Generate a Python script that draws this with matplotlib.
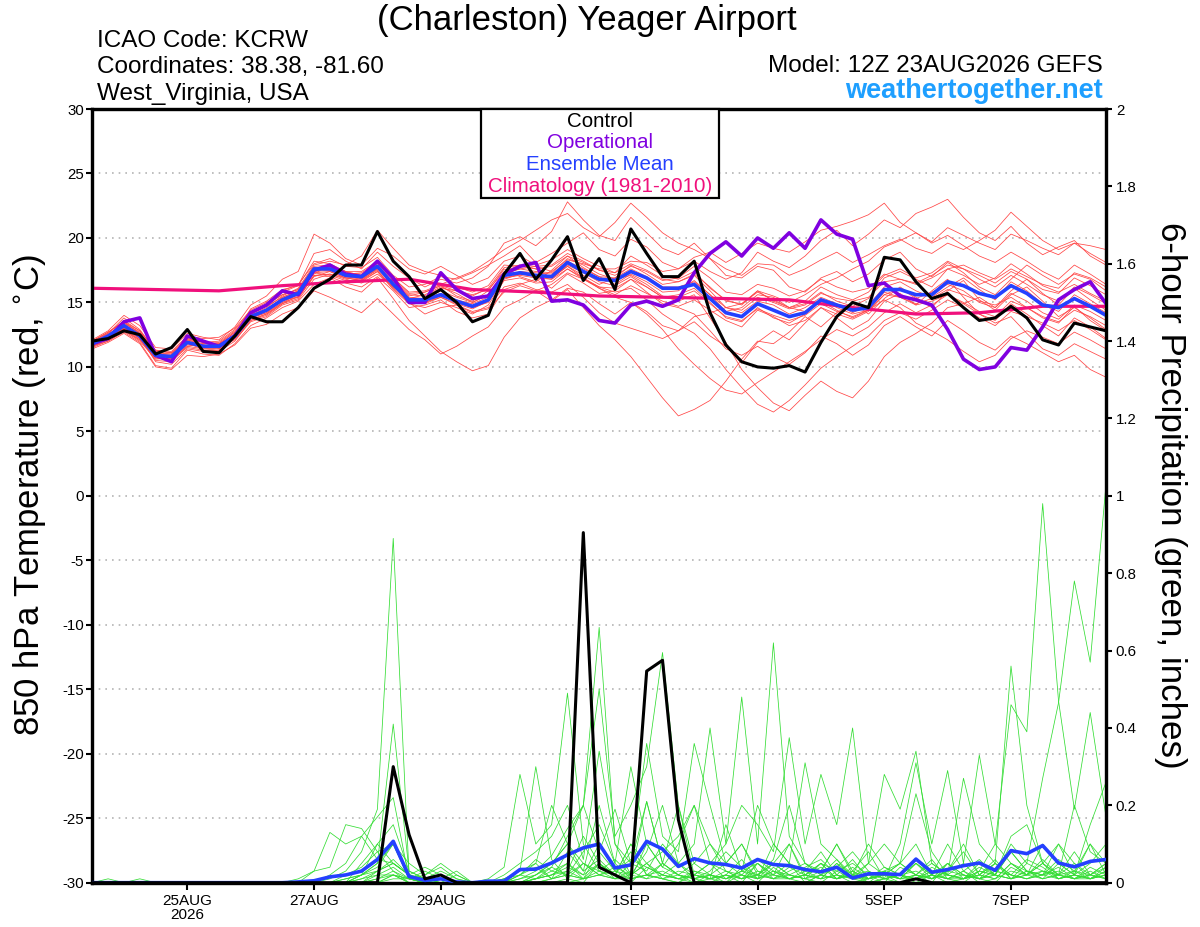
import numpy as np
import matplotlib
matplotlib.use("Agg")
import matplotlib.pyplot as plt
from matplotlib.patches import Rectangle

plt.rcParams['font.family'] = ['Liberation Sans', 'DejaVu Sans']
plt.rcParams['axes.unicode_minus'] = False

# 6-hourly GEFS steps from 12Z 23AUG2026 (65 points, 0-384 h)
times = np.arange(np.datetime64('2026-08-23T12'), np.datetime64('2026-09-08T13'), np.timedelta64(6, 'h'))

# 850 hPa temperature (C)
control_t = [12.0, 12.2, 12.8, 12.5, 11.0, 11.5, 12.9, 11.2, 11.1, 12.4, 13.9, 13.5, 13.5,
             14.6, 16.1, 16.8, 17.9, 17.9, 20.5, 18.2, 17.0, 15.3, 16.0, 15.0, 13.5, 14.0,
             17.2, 18.8, 16.8, 18.3, 20.1, 16.7, 18.4, 16.0, 20.7, 18.8, 17.0, 17.0, 18.2,
             14.2, 11.7, 10.4, 10.0, 9.9, 10.1, 9.6, 11.9, 13.9, 15.0, 14.6, 18.5, 18.3,
             16.6, 15.3, 15.7, 14.6, 13.6, 13.8, 14.7, 13.8, 12.1, 11.7, 13.4, 13.1, 12.8]
oper_t = [11.8, 12.2, 13.5, 13.8, 10.9, 10.4, 12.4, 12.0, 11.6, 12.4, 14.2, 14.8, 15.9,
          15.6, 17.5, 17.9, 17.2, 17.0, 18.2, 16.9, 15.0, 15.0, 17.3, 16.0, 15.3, 15.5,
          17.2, 17.8, 18.1, 15.1, 15.2, 14.8, 13.6, 13.4, 14.8, 15.1, 14.7, 15.2, 17.3,
          18.8, 19.7, 18.6, 20.0, 19.2, 20.4, 19.2, 21.4, 20.3, 19.9, 16.3, 16.5, 15.5,
          15.2, 14.8, 12.9, 10.6, 9.8, 10.0, 11.5, 11.3, 13.1, 15.2, 16.0, 16.6, 14.9]
mean_t = [11.8, 12.4, 13.2, 12.4, 10.9, 10.8, 11.9, 11.6, 11.6, 12.4, 13.9, 14.4, 15.2,
          15.7, 17.6, 17.6, 17.1, 17.0, 17.8, 16.4, 15.2, 15.2, 15.6, 15.1, 14.7, 15.2,
          17.1, 17.3, 17.1, 17.0, 18.1, 17.4, 16.8, 16.7, 17.4, 16.9, 16.1, 16.1, 16.4,
          15.3, 14.2, 13.9, 14.9, 14.4, 13.9, 14.2, 15.2, 14.8, 14.4, 14.6, 16.0, 16.0,
          15.6, 15.6, 16.6, 16.3, 15.7, 15.4, 16.3, 15.7, 14.8, 14.6, 15.3, 14.7, 14.0]
# daily climatology (1981-2010), one value per day step
clim_t = [16.1, 16.0, 15.9, 16.3, 16.6, 16.8, 16.0, 15.8, 15.5,
          15.4, 15.3, 15.2, 14.6, 14.1, 14.2, 14.7, 14.7]

temp_members = [
    [11.9, 12.6, 13.8, 12.9, 11.2, 10.6, 12.1, 12.0, 11.4, 12.6, 14.5, 15.1, 16.0,
     16.3, 18.8, 19.1, 18.2, 17.6, 18.9, 17.8, 16.9, 16.2, 16.8, 16.5, 16.9, 17.8,
     19.6, 20.1, 19.4, 20.5, 22.8, 21.4, 20.2, 19.8, 21.6, 20.4, 19.2, 18.7, 19.6,
     18.4, 17.1, 16.9, 17.8, 17.5, 16.2, 15.8, 16.9, 17.4, 16.6, 17.2, 18.3, 18.9,
     17.6, 17.0, 18.1, 17.3, 16.2, 15.6, 16.8, 17.9, 17.1, 16.4, 17.2, 16.8, 15.9],
    [11.7, 12.3, 13.1, 12.2, 10.5, 10.4, 11.6, 11.8, 11.9, 12.8, 14.1, 14.3, 15.4,
     15.9, 17.2, 17.9, 17.4, 16.8, 17.5, 16.1, 15.0, 14.1, 14.6, 14.8, 14.2, 14.5,
     15.8, 16.3, 15.9, 15.1, 16.0, 14.6, 13.2, 12.1, 10.8, 9.2, 7.6, 6.2, 6.7,
     7.4, 8.9, 10.6, 12.0, 11.8, 12.7, 13.9, 13.1, 14.2, 15.0, 14.1, 15.3, 16.2,
     15.4, 14.6, 15.9, 16.7, 15.2, 14.4, 15.6, 16.2, 15.1, 13.9, 14.6, 13.8, 12.9],
    [11.5, 12.0, 12.7, 11.9, 10.1, 9.9, 11.3, 11.0, 10.9, 11.8, 13.2, 13.8, 14.6,
     15.1, 16.4, 16.9, 16.2, 15.8, 16.9, 15.3, 13.6, 12.4, 11.2, 10.4, 9.7, 10.1,
     12.3, 13.8, 14.6, 15.2, 16.1, 15.8, 14.9, 14.1, 15.0, 14.3, 13.2, 12.8, 13.5,
     12.4, 11.6, 10.3, 11.9, 12.8, 12.1, 13.4, 14.6, 13.8, 12.9, 13.6, 15.1, 15.7,
     14.8, 15.9, 16.8, 15.4, 14.1, 13.6, 14.9, 14.1, 13.2, 12.4, 13.8, 13.1, 12.2],
    [12.0, 12.7, 13.5, 12.6, 11.1, 11.0, 12.2, 11.9, 12.0, 12.9, 14.3, 14.8, 15.9,
     16.4, 18.0, 18.4, 17.8, 17.7, 18.5, 17.1, 16.2, 16.4, 17.0, 16.8, 17.3, 17.9,
     18.6, 19.4, 18.1, 18.8, 19.6, 20.4, 19.1, 18.6, 19.9, 19.3, 18.1, 17.6, 18.2,
     17.4, 16.8, 17.3, 18.9, 18.2, 17.7, 18.6, 19.8, 20.6, 19.4, 20.3, 21.4, 20.8,
     21.9, 22.4, 23.0, 21.6, 20.4, 19.8, 20.9, 19.6, 18.7, 19.3, 19.8, 18.6, 17.9],
    [11.8, 12.2, 12.9, 12.1, 10.7, 10.5, 11.5, 11.3, 11.2, 12.0, 13.6, 14.0, 14.9,
     15.3, 17.1, 17.0, 16.5, 16.2, 17.0, 15.9, 14.6, 14.8, 15.2, 14.3, 13.8, 14.1,
     16.0, 16.4, 16.8, 16.1, 17.2, 16.5, 15.7, 15.9, 16.8, 15.8, 14.9, 14.6, 14.1,
     12.8, 11.4, 10.9, 11.6, 10.8, 10.2, 11.1, 12.4, 11.8, 10.9, 11.7, 13.2, 13.9,
     13.1, 12.4, 13.6, 12.8, 11.9, 11.3, 12.4, 11.8, 11.1, 10.4, 10.9, 9.8, 9.2],
    [11.6, 12.1, 13.0, 12.3, 10.4, 10.2, 11.4, 11.2, 11.3, 12.2, 13.8, 14.2, 15.2,
     15.4, 17.0, 17.4, 16.9, 16.7, 17.6, 16.4, 15.3, 15.6, 16.2, 15.7, 15.0, 15.6,
     17.2, 17.6, 17.4, 17.3, 18.4, 17.9, 17.2, 16.8, 17.1, 16.4, 15.5, 15.1, 15.6,
     13.8, 11.9, 9.8, 8.4, 7.2, 6.6, 7.8, 8.9, 8.1, 7.6, 8.9, 10.8, 11.9,
     12.6, 13.4, 14.6, 14.9, 15.4, 14.6, 15.9, 16.8, 15.7, 14.8, 16.1, 15.2, 14.4],
    [12.1, 12.8, 14.0, 13.2, 11.5, 11.4, 12.6, 12.3, 12.1, 13.1, 14.8, 15.5, 16.8,
     17.4, 20.3, 19.6, 18.4, 17.9, 19.2, 18.6, 17.6, 17.2, 17.8, 17.1, 16.4, 16.9,
     18.2, 18.6, 17.9, 18.3, 19.1, 18.4, 17.8, 17.3, 18.6, 17.9, 17.1, 16.8, 17.4,
     16.1, 15.2, 14.8, 15.9, 15.1, 14.6, 14.9, 15.8, 15.1, 14.7, 15.3, 16.9, 17.4,
     16.8, 16.2, 17.6, 17.1, 16.4, 16.9, 18.0, 17.2, 16.3, 15.8, 16.4, 15.7, 15.1],
    [11.9, 12.5, 13.4, 12.7, 11.0, 10.7, 11.9, 11.6, 11.8, 12.7, 14.0, 14.6, 15.5,
     16.1, 17.9, 18.2, 17.9, 18.6, 20.6, 19.2, 17.9, 17.4, 17.1, 16.2, 15.8, 16.3,
     17.9, 17.8, 17.6, 16.9, 17.8, 17.1, 16.4, 16.9, 17.9, 17.2, 16.4, 16.6, 17.1,
     15.9, 14.6, 14.2, 15.1, 14.8, 14.1, 14.6, 15.4, 14.9, 14.2, 14.8, 16.2, 16.6,
     15.9, 15.4, 16.2, 16.9, 16.0, 15.2, 16.6, 15.9, 14.9, 14.3, 15.6, 14.9, 14.2],
    [11.4, 11.9, 12.6, 11.8, 10.0, 9.8, 10.9, 10.8, 11.0, 11.7, 13.0, 13.3, 14.1,
     14.6, 15.9, 15.4, 14.8, 14.2, 15.3, 14.1, 12.9, 12.1, 11.0, 11.6, 12.4, 13.1,
     14.6, 15.2, 15.9, 16.4, 17.3, 16.8, 16.1, 15.6, 16.3, 15.7, 15.1, 14.7, 15.2,
     14.4, 13.6, 13.1, 14.4, 13.9, 13.2, 13.6, 14.6, 14.1, 13.7, 14.3, 15.6, 16.1,
     15.3, 15.8, 16.4, 15.9, 15.0, 14.6, 15.7, 15.1, 14.2, 13.7, 14.8, 14.3, 13.6],
    [11.8, 12.4, 13.3, 12.5, 10.9, 10.9, 12.0, 11.7, 11.5, 12.3, 13.9, 14.5, 15.3,
     15.8, 17.5, 17.8, 17.2, 17.3, 18.1, 16.9, 15.8, 15.9, 16.4, 16.9, 17.4, 18.2,
     19.1, 19.8, 20.6, 21.4, 21.9, 20.8, 20.1, 21.2, 22.7, 21.6, 20.4, 19.6, 19.1,
     18.4, 17.6, 17.1, 18.0, 17.9, 17.1, 17.6, 18.3, 18.9, 18.1, 18.7, 19.4, 19.9,
     19.2, 18.8, 19.6, 19.1, 19.8, 20.6, 22.0, 20.9, 19.8, 19.1, 19.6, 18.8, 18.1],
    [11.7, 12.2, 13.0, 12.4, 11.0, 11.0, 12.2, 11.9, 11.7, 12.6, 14.2, 14.9, 15.6,
     16.0, 17.7, 17.5, 17.0, 16.9, 17.6, 16.6, 15.5, 15.8, 16.3, 15.5, 15.1, 15.9,
     17.6, 17.0, 16.6, 17.5, 18.6, 17.7, 17.0, 16.4, 17.2, 16.6, 15.8, 15.9, 16.7,
     15.6, 14.3, 14.6, 15.6, 15.4, 14.6, 14.3, 15.1, 14.4, 13.8, 14.4, 15.8, 15.4,
     14.9, 15.3, 16.0, 15.6, 15.1, 14.8, 15.4, 14.6, 13.8, 13.4, 14.7, 13.6, 12.8],
    [11.9, 12.3, 13.1, 12.6, 11.3, 11.1, 12.0, 11.5, 11.4, 12.3, 13.7, 14.1, 14.9,
     15.5, 17.3, 17.1, 16.7, 16.6, 17.4, 16.0, 14.9, 14.6, 15.0, 14.6, 14.1, 14.8,
     16.7, 16.9, 16.5, 16.6, 17.6, 16.8, 16.2, 15.8, 16.1, 15.2, 14.1, 13.3, 12.6,
     11.4, 9.8, 8.4, 7.1, 6.5, 7.4, 8.6, 9.9, 10.8, 11.6, 12.4, 13.6, 14.2,
     13.7, 14.4, 15.2, 14.6, 13.8, 13.2, 14.3, 13.9, 13.4, 12.8, 13.6, 12.9, 12.1],
    [12.0, 12.6, 13.6, 12.8, 11.3, 11.2, 12.4, 12.2, 12.3, 13.0, 14.4, 15.0, 15.8,
     16.3, 18.2, 18.0, 17.4, 17.1, 18.0, 16.8, 15.6, 15.5, 16.1, 15.9, 15.6, 16.0,
     17.4, 17.9, 17.6, 17.8, 18.6, 18.1, 17.5, 17.1, 17.8, 17.4, 16.7, 16.9, 17.8,
     16.9, 15.8, 15.6, 16.4, 16.1, 15.5, 15.9, 16.8, 16.2, 15.8, 16.1, 17.2, 16.8,
     16.5, 17.1, 17.9, 17.6, 17.1, 16.5, 17.4, 16.8, 16.0, 15.7, 16.9, 16.3, 15.6],
    [11.6, 12.2, 12.8, 12.0, 10.6, 10.7, 11.8, 11.4, 11.5, 12.1, 13.5, 13.9, 14.8,
     15.2, 16.8, 17.2, 16.8, 16.5, 17.2, 16.2, 15.1, 14.9, 15.4, 14.9, 14.5, 15.1,
     16.9, 17.2, 17.0, 16.8, 17.9, 17.3, 16.6, 16.3, 17.0, 16.2, 15.4, 15.6, 16.1,
     15.0, 13.8, 13.5, 14.6, 13.8, 13.4, 14.1, 15.3, 14.6, 14.1, 14.4, 15.2, 14.6,
     13.4, 12.8, 12.1, 11.2, 10.4, 10.9, 12.2, 12.8, 12.3, 11.8, 12.7, 12.1, 11.4],
    [11.8, 12.5, 13.4, 12.6, 11.1, 10.8, 12.1, 11.8, 11.7, 12.5, 14.1, 14.7, 15.4,
     15.9, 17.6, 17.7, 17.3, 17.2, 17.9, 16.7, 15.4, 15.3, 15.9, 15.4, 15.0, 15.6,
     17.3, 17.6, 17.8, 17.4, 18.3, 18.0, 17.6, 17.6, 18.2, 18.1, 17.4, 17.6, 18.5,
     18.9, 18.1, 18.8, 19.6, 19.2, 18.9, 19.7, 20.6, 20.9, 21.3, 21.8, 22.7, 21.2,
     20.4, 19.6, 20.2, 19.4, 18.6, 18.1, 18.9, 18.2, 17.4, 16.8, 17.9, 17.2, 16.4],
    [11.7, 12.3, 13.0, 12.3, 10.8, 10.6, 11.7, 11.6, 11.6, 12.4, 13.8, 14.2, 15.0,
     15.6, 17.4, 17.5, 17.0, 16.8, 17.7, 16.3, 15.0, 15.1, 15.6, 15.0, 14.6, 15.0,
     16.8, 17.2, 17.1, 16.9, 17.8, 16.9, 16.1, 15.4, 15.0, 14.1, 12.9, 11.4, 10.2,
     9.1, 8.2, 7.9, 8.8, 9.6, 10.4, 11.2, 12.1, 12.9, 12.4, 13.1, 14.2, 14.9,
     14.2, 14.8, 15.6, 15.0, 14.3, 13.9, 15.1, 14.6, 13.9, 13.5, 14.4, 13.9, 13.2],
    [11.9, 12.4, 13.2, 12.5, 11.0, 10.9, 12.1, 11.7, 11.5, 12.4, 14.0, 14.4, 15.3,
     15.8, 17.6, 17.6, 17.1, 17.0, 17.8, 16.5, 15.3, 15.3, 15.7, 15.2, 14.9, 15.4,
     17.0, 17.4, 17.3, 17.2, 18.2, 17.6, 17.0, 16.9, 17.6, 17.0, 16.2, 16.2, 16.6,
     15.6, 14.6, 14.4, 15.4, 15.0, 14.5, 14.8, 15.7, 15.3, 15.1, 15.4, 16.6, 16.8,
     16.4, 16.9, 17.6, 17.9, 17.3, 16.8, 17.6, 17.0, 16.4, 16.1, 17.3, 16.9, 16.2],
    [11.8, 12.2, 12.9, 12.2, 10.7, 10.6, 11.6, 11.4, 11.3, 12.2, 13.6, 14.1, 15.0,
     15.4, 17.1, 17.2, 16.9, 16.7, 17.4, 16.2, 15.2, 15.0, 15.4, 14.8, 14.3, 14.6,
     16.2, 16.5, 16.0, 15.8, 16.4, 15.4, 14.2, 13.4, 13.0, 12.6, 12.2, 12.8, 13.9,
     14.2, 14.6, 14.9, 15.8, 15.2, 14.6, 15.1, 16.2, 15.6, 15.2, 15.8, 17.1, 17.6,
     16.9, 17.3, 18.2, 17.6, 16.8, 16.2, 17.1, 16.4, 15.6, 15.1, 16.2, 15.6, 14.9],
    [12.0, 12.7, 13.5, 12.8, 11.2, 11.1, 12.3, 11.9, 11.8, 12.7, 14.2, 14.8, 15.6,
     16.0, 17.8, 17.9, 17.4, 17.4, 18.2, 16.9, 15.7, 15.8, 16.3, 15.9, 15.5, 16.1,
     17.7, 17.9, 17.8, 17.9, 18.8, 18.2, 17.5, 17.3, 18.0, 17.5, 16.8, 16.6, 17.2,
     16.2, 15.1, 14.9, 15.9, 15.5, 15.0, 15.6, 16.4, 16.9, 17.6, 18.2, 19.3, 19.8,
     20.4, 19.7, 20.8, 20.2, 19.6, 19.1, 20.3, 19.8, 19.2, 18.7, 19.6, 19.4, 19.1],
    [11.6, 12.0, 12.8, 12.1, 10.8, 10.9, 11.9, 11.7, 11.6, 12.4, 13.9, 14.4, 15.1,
     15.6, 17.3, 17.4, 16.9, 16.9, 17.7, 16.4, 15.1, 15.0, 15.5, 15.0, 14.6, 15.1,
     16.9, 17.1, 16.9, 16.8, 17.6, 16.9, 16.2, 16.1, 16.8, 16.2, 15.4, 15.4, 15.9,
     14.9, 13.9, 13.6, 14.5, 14.0, 13.6, 14.0, 14.9, 14.3, 13.9, 14.4, 15.6, 15.4,
     14.8, 15.1, 15.6, 14.9, 14.1, 13.4, 13.9, 12.6, 11.4, 10.9, 11.8, 11.2, 10.6],
]

# 6-hour precipitation (inches)
control_p = [0, 0, 0, 0, 0, 0, 0, 0, 0, 0, 0, 0, 0,
             0, 0, 0, 0, 0, 0, 0.30, 0.124, 0.01, 0.02, 0, 0, 0,
             0, 0, 0, 0, 0, 0.905, 0.04, 0.02, 0, 0.547, 0.575, 0.163, 0,
             0, 0, 0, 0, 0, 0, 0, 0, 0, 0, 0, 0, 0,
             0.01, 0, 0, 0, 0, 0, 0, 0, 0, 0, 0, 0, 0]
mean_p = [0, 0, 0, 0, 0, 0, 0, 0, 0, 0, 0, 0, 0,
          0.002, 0.005, 0.015, 0.02, 0.03, 0.06, 0.107, 0.016, 0.006, 0.01, 0.002, 0, 0.004,
          0.004, 0.034, 0.035, 0.051, 0.072, 0.09, 0.10, 0.038, 0.046, 0.107, 0.087, 0.042, 0.062,
          0.051, 0.047, 0.038, 0.06, 0.047, 0.044, 0.034, 0.028, 0.04, 0.012, 0.023, 0.023, 0.021,
          0.061, 0.027, 0.034, 0.044, 0.051, 0.032, 0.083, 0.075, 0.096, 0.051, 0.041, 0.055, 0.06]

precip_members = [
    [0, 0, 0, 0, 0, 0, 0, 0, 0, 0, 0, 0, 0,
     0, 0, 0.01, 0.03, 0.08, 0.19, 0.89, 0.02, 0, 0.01, 0, 0, 0,
     0, 0.02, 0.05, 0.01, 0.08, 0.03, 0.2, 0.05, 0.01, 0.1, 0.04, 0.02, 0.05,
     0.02, 0, 0.04, 0.01, 0.1, 0.05, 0, 0.02, 0.06, 0.01, 0, 0.03, 0.01,
     0.05, 0.02, 0, 0.01, 0.04, 0.02, 0.1, 0.05, 0.27, 0.465, 0.78, 0.57, 1.03],
    [0, 0, 0, 0, 0, 0, 0, 0, 0, 0, 0, 0, 0,
     0, 0, 0, 0, 0.02, 0.05, 0.41, 0.03, 0.01, 0, 0, 0, 0,
     0.01, 0.03, 0.30, 0.06, 0.01, 0, 0.05, 0.02, 0.08, 0.02, 0.01, 0, 0.02,
     0.05, 0.01, 0.02, 0, 0.04, 0.01, 0.03, 0.08, 0.02, 0, 0.01, 0.02, 0,
     0.02, 0.06, 0.01, 0, 0.03, 0.1, 0.46, 0.39, 0.98, 0.47, 0.19, 0.44, 0.17],
    [0, 0, 0, 0, 0, 0, 0, 0, 0, 0, 0, 0, 0,
     0, 0, 0.02, 0.05, 0.12, 0.17, 0.22, 0.01, 0, 0, 0.02, 0, 0,
     0, 0, 0.01, 0.04, 0.12, 0.2, 0.66, 0.1, 0.02, 0.05, 0.01, 0, 0.03,
     0.01, 0.02, 0, 0.05, 0.02, 0.1, 0.01, 0, 0.03, 0.05, 0.02, 0, 0.04,
     0.02, 0, 0.05, 0.01, 0.02, 0.06, 0.01, 0.02, 0.1, 0.05, 0.02, 0.15, 0.26],
    [0, 0, 0, 0, 0, 0, 0, 0, 0, 0, 0, 0, 0,
     0, 0.03, 0.13, 0.1, 0.12, 0.06, 0.05, 0.02, 0, 0, 0, 0, 0.01,
     0.04, 0.28, 0.1, 0.15, 0.49, 0.1, 0.03, 0.01, 0.02, 0.08, 0.2, 0.05, 0.01,
     0, 0.02, 0.06, 0.01, 0.03, 0.01, 0.02, 0.05, 0.01, 0.02, 0.01, 0.04, 0.02,
     0.01, 0.03, 0.02, 0.05, 0.01, 0.02, 0.08, 0.03, 0.02, 0.06, 0.03, 0.01, 0.04],
    [0, 0, 0, 0, 0, 0, 0, 0, 0, 0, 0, 0, 0,
     0, 0, 0, 0.02, 0.04, 0.08, 0.1, 0.05, 0.02, 0.04, 0.01, 0, 0,
     0, 0.01, 0.03, 0.07, 0.14, 0.2, 0.50, 0.12, 0.2, 0.3, 0.595, 0.2, 0.05,
     0.1, 0.03, 0.02, 0.01, 0.05, 0.02, 0.01, 0.03, 0.1, 0.02, 0, 0.01, 0.02,
     0.03, 0.01, 0.05, 0.02, 0.01, 0, 0.04, 0.02, 0.05, 0.1, 0.02, 0.01, 0.03],
    [0, 0, 0, 0, 0, 0, 0, 0, 0, 0, 0, 0, 0,
     0, 0, 0, 0, 0.01, 0.03, 0.06, 0.02, 0.01, 0.03, 0.01, 0, 0,
     0.02, 0.05, 0.08, 0.12, 0.2, 0.06, 0.34, 0.1, 0.05, 0.36, 0.12, 0.08, 0.36,
     0.2, 0.05, 0.1, 0.03, 0.02, 0.05, 0.03, 0.01, 0.02, 0.06, 0.01, 0.03, 0.05,
     0.1, 0.02, 0.01, 0.03, 0.06, 0.02, 0.01, 0.05, 0.03, 0.02, 0.08, 0.02, 0.05],
    [0, 0, 0, 0, 0, 0, 0, 0, 0, 0, 0, 0, 0,
     0, 0, 0, 0, 0, 0.02, 0.04, 0.01, 0, 0, 0, 0, 0,
     0, 0, 0.02, 0.05, 0.1, 0.03, 0.06, 0.02, 0.1, 0.05, 0.02, 0.05, 0.1,
     0.4, 0.1, 0.48, 0.1, 0.62, 0.12, 0.05, 0.02, 0.01, 0.04, 0.01, 0.02, 0.05,
     0.02, 0.01, 0.03, 0.08, 0.02, 0.01, 0.05, 0.02, 0.05, 0.01, 0.02, 0.1, 0.02],
    [0, 0, 0, 0, 0, 0, 0, 0, 0, 0, 0, 0, 0,
     0, 0, 0, 0, 0.02, 0.1, 0.15, 0.03, 0.01, 0, 0, 0, 0,
     0, 0.01, 0.02, 0.04, 0.02, 0.08, 0.15, 0.05, 0.3, 0.1, 0.04, 0.1, 0.2,
     0.05, 0.1, 0.2, 0.15, 0.08, 0.375, 0.1, 0.28, 0.15, 0.40, 0.05, 0.02, 0.01,
     0.05, 0.02, 0.1, 0.03, 0.01, 0.05, 0.02, 0.01, 0.03, 0.02, 0.05, 0.01, 0.02],
    [0, 0.01, 0, 0, 0, 0, 0, 0, 0, 0, 0, 0, 0,
     0, 0, 0, 0, 0, 0.03, 0.05, 0.02, 0.01, 0, 0, 0, 0,
     0.01, 0.03, 0.05, 0.2, 0.1, 0.05, 0.02, 0.01, 0.05, 0.03, 0.1, 0.05, 0.02,
     0.01, 0.15, 0.03, 0.2, 0.1, 0.05, 0.31, 0.1, 0.06, 0.02, 0.05, 0.28, 0.19,
     0.34, 0.05, 0.02, 0.01, 0.03, 0.02, 0.08, 0.03, 0.01, 0.05, 0.02, 0.01, 0.03],
    [0, 0, 0, 0, 0, 0, 0, 0, 0, 0, 0, 0, 0,
     0, 0, 0, 0, 0, 0, 0.02, 0, 0, 0.01, 0.03, 0, 0,
     0, 0, 0.01, 0.02, 0.05, 0.01, 0.08, 0.03, 0.06, 0.04, 0.02, 0.01, 0.03,
     0.02, 0.05, 0.1, 0.02, 0.06, 0.2, 0.05, 0.03, 0.1, 0.03, 0.08, 0.01, 0.1,
     0.31, 0.1, 0.29, 0.05, 0.33, 0.1, 0.05, 0.03, 0.02, 0.1, 0.05, 0.02, 0.04],
    [0, 0, 0, 0, 0, 0, 0, 0, 0, 0, 0, 0, 0,
     0, 0, 0, 0.01, 0.02, 0.04, 0.1, 0.01, 0, 0, 0, 0, 0,
     0, 0.02, 0.04, 0.01, 0.02, 0.05, 0.02, 0.04, 0.02, 0.01, 0.05, 0.02, 0,
     0.02, 0.01, 0.03, 0.05, 0.01, 0.02, 0.04, 0.06, 0.02, 0.01, 0.05, 0.1, 0.05,
     0.23, 0.08, 0.02, 0.27, 0.1, 0.05, 0.56, 0.2, 0.05, 0.02, 0.03, 0.1, 0.05],
    [0, 0, 0, 0, 0, 0, 0, 0, 0, 0, 0, 0, 0,
     0, 0, 0, 0, 0, 0.01, 0.03, 0.01, 0, 0, 0, 0, 0,
     0, 0, 0, 0.01, 0.03, 0.12, 0.05, 0.02, 0.01, 0.02, 0.05, 0.02, 0.01,
     0.03, 0.08, 0.04, 0.02, 0.01, 0.03, 0.05, 0.02, 0.04, 0.08, 0.03, 0.01, 0.02,
     0.01, 0.04, 0.02, 0.01, 0.03, 0.02, 0.12, 0.15, 0.05, 0.02, 0.2, 0.08, 0.05],
    [0, 0, 0, 0.01, 0, 0, 0, 0, 0, 0, 0, 0, 0,
     0.01, 0.03, 0.04, 0.15, 0.14, 0.08, 0.03, 0, 0, 0, 0, 0, 0,
     0, 0, 0, 0, 0.01, 0.05, 0.03, 0.02, 0, 0.04, 0.02, 0.01, 0,
     0.01, 0, 0.02, 0.01, 0.03, 0.01, 0, 0.02, 0.01, 0.03, 0, 0.01, 0.02,
     0, 0.02, 0.01, 0.03, 0, 0.01, 0.05, 0.02, 0.03, 0.01, 0.02, 0.05, 0.1],
    [0, 0, 0, 0, 0, 0, 0, 0, 0, 0, 0, 0, 0,
     0, 0, 0, 0, 0.05, 0.1, 0.05, 0.02, 0.04, 0.02, 0, 0, 0,
     0, 0.02, 0.06, 0.03, 0.05, 0.02, 0.1, 0.03, 0.02, 0.21, 0.05, 0.2, 0.02,
     0.05, 0.03, 0.01, 0.02, 0.05, 0.1, 0.02, 0.05, 0.01, 0.02, 0.1, 0.04, 0.02,
     0.05, 0.01, 0.03, 0.1, 0.02, 0.05, 0.02, 0.01, 0.02, 0.04, 0.01, 0.03, 0.01],
    [0, 0, 0, 0, 0, 0, 0, 0, 0, 0, 0, 0, 0,
     0, 0, 0, 0, 0, 0, 0.01, 0.01, 0.02, 0.05, 0.02, 0, 0,
     0, 0, 0.01, 0.02, 0.04, 0.02, 0.05, 0.02, 0.1, 0.02, 0.01, 0.03, 0.02,
     0.01, 0.02, 0.01, 0.05, 0.02, 0.01, 0.02, 0.01, 0.05, 0.01, 0.02, 0.03, 0.01,
     0.02, 0.01, 0.02, 0.01, 0.05, 0.02, 0.01, 0.03, 0.01, 0.02, 0.01, 0.02, 0.01],
    [0, 0, 0, 0, 0, 0, 0, 0, 0, 0, 0, 0, 0,
     0, 0, 0, 0, 0.01, 0.02, 0.02, 0.01, 0, 0.01, 0, 0, 0,
     0.01, 0.02, 0.01, 0.03, 0.02, 0.01, 0.02, 0.03, 0.01, 0.02, 0.01, 0.02, 0.01,
     0.02, 0.01, 0.03, 0.01, 0.02, 0.01, 0.02, 0.01, 0.02, 0.01, 0.01, 0.02, 0.01,
     0.01, 0.02, 0.01, 0.01, 0.02, 0.01, 0.03, 0.02, 0.01, 0.02, 0.01, 0.01, 0.02],
    [0, 0, 0, 0, 0, 0, 0, 0, 0, 0, 0, 0, 0,
     0, 0, 0, 0, 0.02, 0.05, 0.1, 0.01, 0, 0, 0, 0, 0,
     0, 0, 0, 0, 0, 0.01, 0.03, 0.06, 0.02, 0.05, 0.08, 0.12, 0.2,
     0.1, 0.05, 0.02, 0.06, 0.03, 0.02, 0.01, 0.05, 0.03, 0.01, 0.02, 0.01, 0,
     0.01, 0.02, 0.05, 0.02, 0.01, 0.03, 0.02, 0.06, 0.04, 0.01, 0.03, 0.02, 0.05],
    [0, 0, 0, 0, 0, 0, 0, 0, 0, 0, 0, 0, 0,
     0, 0, 0, 0, 0, 0.01, 0.02, 0, 0, 0, 0, 0, 0,
     0, 0, 0, 0.01, 0.02, 0.01, 0.05, 0.01, 0.01, 0.02, 0.03, 0.01, 0.02,
     0.01, 0.02, 0.01, 0.03, 0.01, 0.01, 0.02, 0.04, 0.01, 0.02, 0.01, 0.02, 0.05,
     0.02, 0.05, 0.02, 0.01, 0.02, 0.05, 0.01, 0.02, 0.06, 0.02, 0.01, 0.04, 0.02],
    [0, 0, 0, 0, 0, 0, 0, 0, 0, 0, 0, 0, 0,
     0, 0, 0, 0.01, 0.02, 0.03, 0.05, 0.02, 0, 0, 0, 0, 0,
     0, 0, 0.02, 0.05, 0.1, 0.2, 0.08, 0.19, 0.05, 0.21, 0.05, 0.02, 0.01,
     0.02, 0.01, 0.03, 0.02, 0.01, 0.04, 0.02, 0.01, 0.05, 0.02, 0.03, 0.01, 0.02,
     0.01, 0.03, 0.01, 0.02, 0.01, 0.03, 0.02, 0.01, 0.02, 0.03, 0.01, 0.02, 0.01],
    [0, 0, 0, 0, 0, 0, 0, 0, 0, 0, 0, 0, 0,
     0, 0, 0, 0, 0, 0, 0.02, 0.01, 0.03, 0.01, 0, 0, 0,
     0, 0, 0.01, 0.02, 0.03, 0.01, 0.02, 0.01, 0.03, 0.01, 0.02, 0.01, 0.02,
     0.01, 0.03, 0.01, 0.02, 0.05, 0.02, 0.01, 0.02, 0.01, 0.03, 0.01, 0.02, 0.01,
     0.02, 0.01, 0.03, 0.02, 0.01, 0.02, 0.01, 0.03, 0.02, 0.01, 0.02, 0.01, 0.02],
]

tick_dates = ['2026-08-25', '2026-08-27', '2026-08-29', '2026-09-01',
              '2026-09-03', '2026-09-05', '2026-09-07']
tick_labels = ['25AUG\n2026', '27AUG', '29AUG', '1SEP', '3SEP', '5SEP', '7SEP']
precip_ticks = [0, 0.2, 0.4, 0.6, 0.8, 1, 1.2, 1.4, 1.6, 1.8, 2]

RED = '#ff4545'
GREEN = '#33dd33'
PURPLE = '#8000e0'
BLUE = '#2440ff'
PINK = '#f0107c'

fig = plt.figure(figsize=(12, 9.27), dpi=100)
ax = fig.add_axes([0.0769, 0.0478, 0.8448, 0.8346])
ax2 = ax.twinx()

# temperature on the left axis
for m in temp_members:
    ax.plot(times, m, color=RED, lw=0.55, zorder=2)
ax.plot(times[::4], clim_t, color=PINK, lw=2.3, zorder=3)
ax.plot(times, oper_t, color=PURPLE, lw=2.6, zorder=4)
ax.plot(times, mean_t, color=BLUE, lw=2.6, zorder=5)
ax.plot(times, control_t, color='black', lw=2.2, zorder=6)

# precipitation on the right axis
for m in precip_members:
    ax2.plot(times, m, color=GREEN, lw=0.55, zorder=2)
ax2.plot(times, mean_p, color=BLUE, lw=2.6, zorder=5)
ax2.plot(times, control_p, color='black', lw=2.2, zorder=6)

ax.set_xlim(times[0], times[-1])
ax.set_ylim(-30, 30)
ax.set_yticks(range(-30, 31, 5))
ax.yaxis.grid(True, linestyle=(0, (1, 3)), color='#b4b4b4', lw=1.2)
ax.set_xticks(np.array(tick_dates, dtype='datetime64[h]'))
ax.set_xticklabels(tick_labels, linespacing=1.0)
ax.tick_params(axis='y', direction='out', length=4, width=1.5, labelsize=10.8, pad=2)
ax.tick_params(axis='x', direction='out', length=5, width=1.5, labelsize=11, pad=3)

ax2.set_ylim(0, 2)
ax2.set_yticks(precip_ticks)
ax2.set_yticklabels([f'{v:g}' for v in precip_ticks])
ax2.tick_params(axis='y', direction='out', length=4, width=1.5, labelsize=10.8, pad=3)

for a in (ax, ax2):
    for s in a.spines.values():
        s.set_linewidth(2.3)

fig.text(0.025, 0.466, '850 hPa Temperature (red, $^{\\circ}$C)', rotation=90,
         ha='center', va='center', fontsize=25)
fig.text(0.975, 0.466, '6-hour Precipitation (green, inches)', rotation=-90,
         ha='center', va='center', fontsize=25.2)

# header
fig.text(0.489, 0.9676, '(Charleston) Yeager Airport', ha='center', va='baseline', fontsize=25)
fig.text(0.081, 0.9493, 'ICAO Code: KCRW', ha='left', va='baseline', fontsize=17.5)
fig.text(0.081, 0.9213, 'Coordinates: 38.38, -81.60', ha='left', va='baseline', fontsize=17.5)
fig.text(0.081, 0.8921, 'West_Virginia, USA', ha='left', va='baseline', fontsize=17.5)
fig.text(0.9192, 0.9223, 'Model: 12Z 23AUG2026 GEFS', ha='right', va='baseline', fontsize=17.5)
fig.text(0.9192, 0.8943, 'weathertogether.net', ha='right', va='baseline', fontsize=19.5,
         fontweight='bold', color='#1e9fff')

# legend box (text only)
fig.patches.append(Rectangle((0.4006, 0.7861), 0.1988, 0.0960, transform=fig.transFigure,
                             facecolor='white', edgecolor='black', lw=1.6, zorder=10))
legend_items = [('Control', 'black', 0.8633), ('Operational', PURPLE, 0.8400),
                ('Ensemble Mean', BLUE, 0.8166), ('Climatology (1981-2010)', PINK, 0.7932)]
for label, c, y in legend_items:
    fig.text(0.5, y, label, ha='center', va='baseline', fontsize=14.8, color=c, zorder=11)

fig.savefig('out.png', dpi=100)
